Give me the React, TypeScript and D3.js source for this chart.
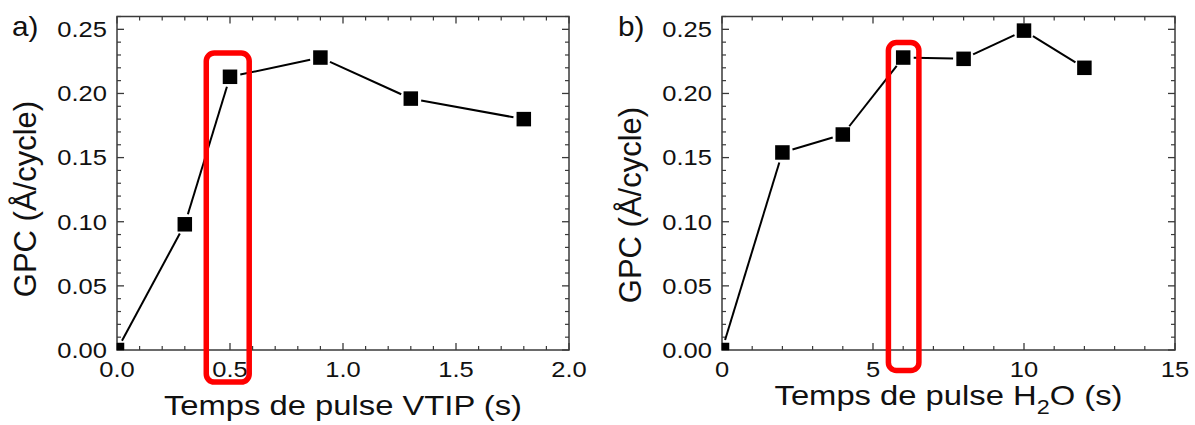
import React from 'react';
import * as d3 from 'd3';

// ---- data ----
const vtipTime = [0, 0.3, 0.5, 0.9, 1.3, 1.8];
const vtipGpc = [0, 0.098, 0.213, 0.228, 0.196, 0.18];
const h2oTime = [0, 2, 4, 6, 8, 10, 12];
const h2oGpc = [0, 0.154, 0.168, 0.228, 0.227, 0.249, 0.22];
const xTicksA = [0, 0.5, 1.0, 1.5, 2.0];
const xTicksB = [0, 5, 10, 15];
const yTicks = [0, 0.05, 0.1, 0.15, 0.2, 0.25];
const highlightA = [0.395, 0.585, -0.025, 0.2315];
const highlightB = [5.51, 6.52, -0.016, 0.2397];

const FONT = '"Liberation Sans", Arial, sans-serif';
const AX = '#3a3a3a';

type PanelProps = {
  id: string;
  left: number;
  right: number;
  xDomain: [number, number];
  xTicks: number[];
  xMinor: number;
  xFmt: (v: number) => string;
  xs: number[];
  ys: number[];
  box: number[];
  label: string;
  labelX: number;
  yTitleX: number;
  yTitleY: number;
  xTitle: React.ReactNode;
  xTitleY: number;
};

function Panel(p: PanelProps) {
  const top = 16.5;
  const bottom = 350;
  const x = d3.scaleLinear().domain(p.xDomain).range([p.left, p.right]);
  const y = d3.scaleLinear().domain([0, 0.26]).range([bottom, top]);
  const xMinor = d3.range(p.xDomain[0], p.xDomain[1] + 1e-9, p.xMinor).filter(
    (v) => !p.xTicks.some((t) => Math.abs(t - v) < 1e-6)
  );
  const yMinor = d3.range(0, 0.26 + 1e-9, 0.01).filter(
    (v) => !yTicks.some((t) => Math.abs(t - v) < 1e-6)
  );
  const pts = p.xs.map((v, i) => [x(v), y(p.ys[i])]);
  const gap = 10.5;
  const segs = d3.pairs(pts).map(([a, b]) => {
    const dx = b[0] - a[0];
    const dy = b[1] - a[1];
    const L = Math.hypot(dx, dy);
    const ux = dx / L;
    const uy = dy / L;
    return [a[0] + ux * gap, a[1] + uy * gap, b[0] - ux * gap, b[1] - uy * gap];
  });
  const ms = 14.5;
  const sx = 1.16;
  const majL = 7;
  const minL = 4;
  return (
    <g>
      <defs>
        <clipPath id={`clip-${p.id}`}>
          <rect x={p.left} y={top} width={p.right - p.left} height={bottom - top} />
        </clipPath>
      </defs>
      {/* frame */}
      <rect x={p.left} y={top} width={p.right - p.left} height={bottom - top} fill="none" stroke={AX} strokeWidth={1.5} />
      {/* x ticks bottom & top */}
      {p.xTicks.map((t) => (
        <g key={`xt${t}`}>
          <line x1={x(t)} x2={x(t)} y1={bottom} y2={bottom - majL} stroke={AX} strokeWidth={1.3} />
          <line x1={x(t)} x2={x(t)} y1={top} y2={top + majL} stroke={AX} strokeWidth={1.3} />
        </g>
      ))}
      {xMinor.map((t) => (
        <g key={`xm${t}`}>
          <line x1={x(t)} x2={x(t)} y1={bottom} y2={bottom - minL} stroke={AX} strokeWidth={1.2} />
          <line x1={x(t)} x2={x(t)} y1={top} y2={top + minL} stroke={AX} strokeWidth={1.2} />
        </g>
      ))}
      {yTicks.map((t) => (
        <g key={`yt${t}`}>
          <line x1={p.left} x2={p.left + majL} y1={y(t)} y2={y(t)} stroke={AX} strokeWidth={1.3} />
          <line x1={p.right} x2={p.right - majL} y1={y(t)} y2={y(t)} stroke={AX} strokeWidth={1.3} />
        </g>
      ))}
      {yMinor.map((t) => (
        <g key={`ym${t}`}>
          <line x1={p.left} x2={p.left + minL} y1={y(t)} y2={y(t)} stroke={AX} strokeWidth={1.2} />
          <line x1={p.right} x2={p.right - minL} y1={y(t)} y2={y(t)} stroke={AX} strokeWidth={1.2} />
        </g>
      ))}
      {/* tick labels */}
      {yTicks.map((t) => (
        <text
          key={`yl${t}`}
          transform={`translate(${p.left - 10},${y(t) + 7.8}) scale(${sx},1)`}
          textAnchor="end"
          fontFamily={FONT}
          fontSize={22}
          fill="#111"
        >
          {d3.format('.2f')(t)}
        </text>
      ))}
      {p.xTicks.map((t) => (
        <text
          key={`xl${t}`}
          transform={`translate(${x(t)},${bottom + 27}) scale(${sx},1)`}
          textAnchor="middle"
          fontFamily={FONT}
          fontSize={22}
          fill="#111"
        >
          {p.xFmt(t)}
        </text>
      ))}
      {/* data line */}
      {segs.map((s, i) => (
        <line key={`s${i}`} x1={s[0]} y1={s[1]} x2={s[2]} y2={s[3]} stroke="#000" strokeWidth={2} />
      ))}
      <g clipPath={`url(#clip-${p.id})`}>
        {pts.map((q, i) => (
          <rect key={`m${i}`} x={q[0] - ms / 2} y={q[1] - ms / 2} width={ms} height={ms} fill="#000" />
        ))}
      </g>
      {/* highlight box */}
      <rect
        x={x(p.box[0])}
        y={y(p.box[3])}
        width={x(p.box[1]) - x(p.box[0])}
        height={y(p.box[2]) - y(p.box[3])}
        rx={8}
        fill="none"
        stroke="#ff0000"
        strokeWidth={5.5}
      />
      {/* axis titles */}
      <text
        transform={`translate(${p.yTitleX},${p.yTitleY}) rotate(-90)`}
        textAnchor="middle"
        fontFamily={FONT}
        fontSize={31}
        fill="#111"
      >
        GPC (Å/cycle)
      </text>
      <text
        transform={`translate(${(p.left + p.right) / 2},${p.xTitleY}) scale(1.17,1)`}
        textAnchor="middle"
        fontFamily={FONT}
        fontSize={28}
        fill="#111"
      >
        {p.xTitle}
      </text>
      <text
        transform={`translate(${p.labelX},36) scale(1.1,1)`}
        fontFamily={FONT}
        fontSize={27}
        fill="#111"
      >
        {p.label}
      </text>
    </g>
  );
}

export default function App() {
  return (
    <svg
      width={1195}
      height={425}
      viewBox="0 0 1195 425"
      style={{ position: 'absolute', left: 0, top: 0, background: '#fff' }}
    >
      <rect x={0} y={0} width={1195} height={425} fill="#fff" />
      <Panel
        id="a"
        left={117}
        right={569}
        xDomain={[0, 2]}
        xTicks={xTicksA}
        xMinor={0.1}
        xFmt={d3.format('.1f')}
        xs={vtipTime}
        ys={vtipGpc}
        box={highlightA}
        label="a)"
        labelX={12}
        yTitleX={36}
        yTitleY={199}
        xTitle="Temps de pulse VTIP (s)"
        xTitleY={415}
      />
      <Panel
        id="b"
        left={722}
        right={1175}
        xDomain={[0, 15]}
        xTicks={xTicksB}
        xMinor={1}
        xFmt={d3.format('d')}
        xs={h2oTime}
        ys={h2oGpc}
        box={highlightB}
        label="b)"
        labelX={618}
        yTitleX={641}
        yTitleY={205}
        xTitle={
          <>
            Temps de pulse H
            <tspan fontSize={20} dy={9}>2</tspan>
            <tspan dy={-9}>O (s)</tspan>
          </>
        }
        xTitleY={405}
      />
    </svg>
  );
}
